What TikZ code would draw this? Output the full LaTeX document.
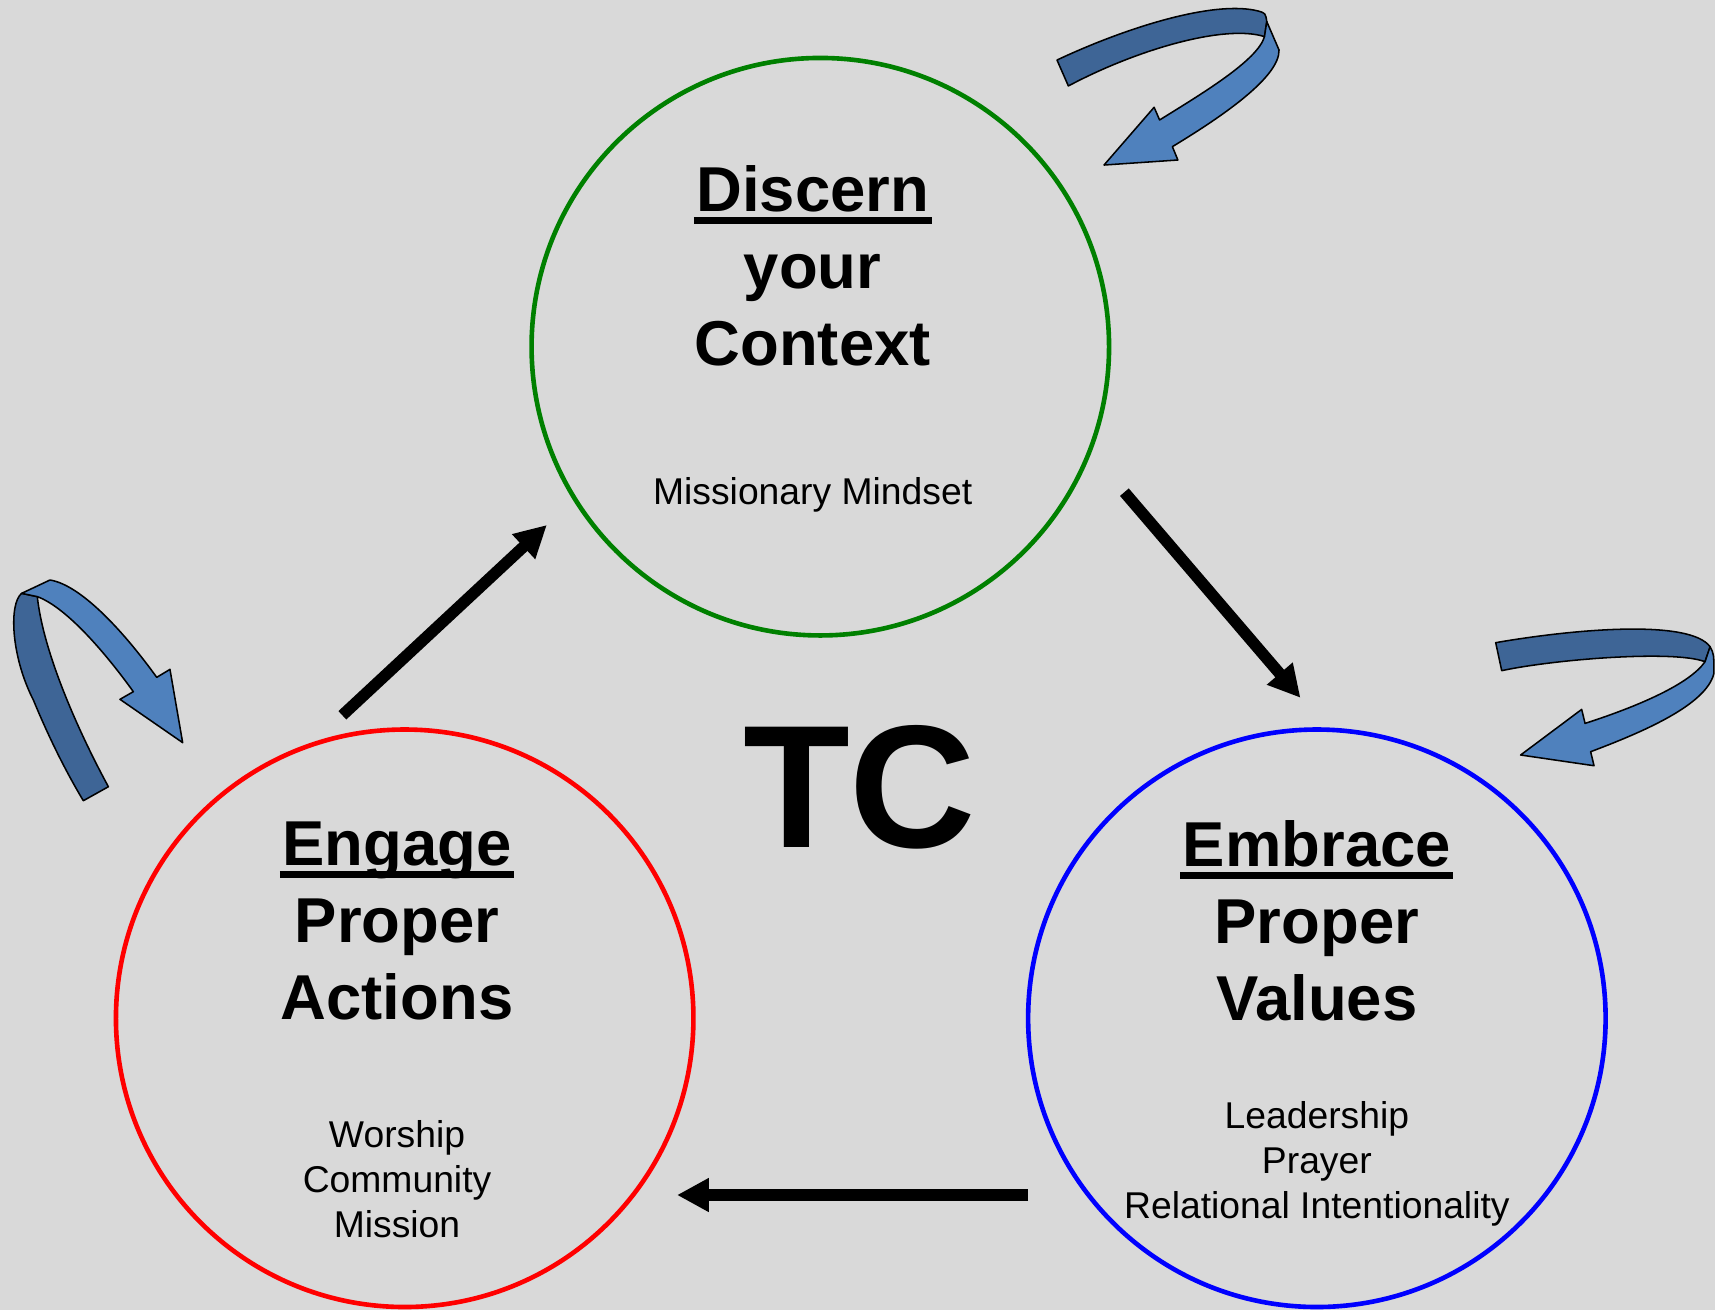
\documentclass[tikz,border=0pt]{standalone}
\usepackage{fontspec}
\setmainfont{Liberation Sans}
\usetikzlibrary{arrows.meta}
\definecolor{bggray}{HTML}{D9D9D9}
\definecolor{ribbondark}{HTML}{3E6596}
\definecolor{ribbonlight}{HTML}{4F81BD}
\definecolor{discerngreen}{HTML}{008000}
\tikzset{arrow/.style={-{Triangle[length=8.3pt, width=8.3pt]}, line width=3pt}}
\tikzset{ring/.style={circle, draw, line width=1.2pt, minimum size=52.8mm, inner sep=0pt}}
\tikzset{headline/.style={align=center, font=\fontsize{16.5}{20}\selectfont\bfseries}}
\tikzset{itemlist/.style={align=center, font=\fontsize{9.7}{11.7}\selectfont}}
\tikzset{ribbonback/.style={fill=ribbondark, draw=black, line width=0.4pt, line join=round}}
\tikzset{ribbonfront/.style={fill=ribbonlight, draw=black, line width=0.4pt, line join=round}}
\newcommand{\ulword}[1]{\setbox0=\hbox{#1}\rlap{\kern-0.04em\rule[-0.195em]{\dimexpr\wd0+0.08em\relax}{0.105em}}\box0}

\begin{document}
\begin{tikzpicture}[x=0.1mm, y=-0.1mm]
    \fill[bggray] (0, 0) rectangle (1568, 1198);
    \useasboundingbox (0, 0) rectangle (1568, 1198);
    \node[ring, draw=discerngreen] (discern) at (750, 317) {};
    \node[ring, draw=red] (engage) at (370, 931) {};
    \node[ring, draw=blue] (embrace) at (1204, 931) {};
    \node[headline] (discernText) at (743, 243) {\ulword{Discern}\\your\\Context};
    \node[headline] (engageText) at (363, 842) {\ulword{Engage}\\Proper\\Actions};
    \node[headline] (embraceText) at (1204, 842) {\ulword{Embrace}\\Proper\\Values};
    \node[itemlist, anchor=base] (mindset) at (743, 461) {Missionary Mindset};
    \node[itemlist] (actionItems) at (363, 1078) {Worship\\Community\\Mission};
    \node[itemlist] (valueItems) at (1204, 1064) {Leadership\\Prayer\\Relational Intentionality};
    \node[anchor=base, font=\fontsize{45.5}{50}\selectfont\bfseries] (tc) at (786, 775) {TC};
    \coordinate (engageOut) at (313, 654);
    \coordinate (discernIn) at (500, 480);
    \coordinate (discernOut) at (1028, 450);
    \coordinate (embraceIn) at (1189, 638);
    \coordinate (embraceOut) at (940, 1092.6);
    \coordinate (engageIn) at (619, 1092.6);
    \draw[arrow] (engageOut) -- (discernIn);
    \draw[arrow] (discernOut) -- (embraceIn);
    \draw[arrow] (embraceOut) -- (engageIn);
    \filldraw[ribbonback] (966.4, 54.9) .. controls (1030, 25) and (1110, 0) .. (1150, 10) .. controls (1157, 12) .. (1158.2, 19.8) -- (1156.1, 33.5) .. controls (1120, 22) and (1040, 45) .. (976.8, 78.6) -- cycle;
    \filldraw[ribbonfront] (1158.2, 19.8) -- (1169.4, 45.7) .. controls (1170, 70) and (1120, 105) .. (1071.9, 134.1) -- (1076.9, 146.3) -- (1009.4, 150.9) -- (1055.2, 98.1) -- (1060.2, 109.7) .. controls (1100, 85) and (1150, 55) .. (1156.1, 33.5) -- cycle;
    \filldraw[ribbonback] (1367.5, 587.6) .. controls (1440, 575) and (1545, 566) .. (1563.5, 591.3) -- (1558.9, 605) .. controls (1530, 594) and (1420, 603) .. (1373, 613.2) -- cycle;
    \filldraw[ribbonfront] (1563.5, 591.3) .. controls (1567, 598) .. (1567, 615.7) .. controls (1560, 645) and (1500, 670) .. (1454.3, 687.3) -- (1457.4, 700.1) -- (1390.3, 690.3) -- (1446.1, 648.6) -- (1449.2, 661.4) .. controls (1500, 645) and (1545, 625) .. (1558.9, 605) -- cycle;
    \filldraw[ribbonback] (19.8, 542.5) .. controls (8, 552) and (10, 600) .. (30.5, 640) .. controls (45, 675) and (60, 705) .. (76.2, 732.1) -- (99.1, 719.3) .. controls (75, 675) and (40, 600) .. (34.1, 545.5) -- cycle;
    \filldraw[ribbonfront] (19.8, 542.5) -- (45.7, 530.3) .. controls (75, 535) and (115, 580) .. (143.3, 619.3) -- (155.4, 612) -- (167, 679) -- (109.7, 639.4) -- (121.9, 632.4) .. controls (95, 595) and (60, 555) .. (34.1, 545.5) -- cycle;
\end{tikzpicture}
\end{document}
